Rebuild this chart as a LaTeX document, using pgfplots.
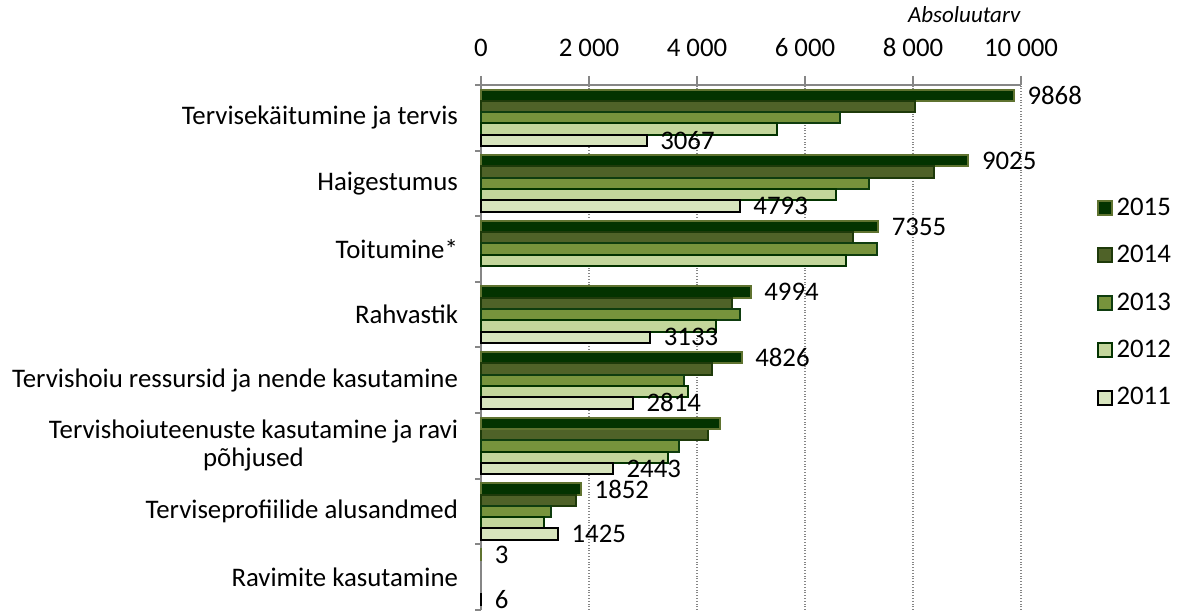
\documentclass[border=0pt]{standalone}
\usepackage{fontspec}
\setmainfont{Carlito}
\usepackage{pgfplots}
\pgfplotsset{compat=1.18}
\definecolor{c15}{HTML}{033300}
\definecolor{c15e}{HTML}{5F7330}
\definecolor{c14}{HTML}{4F6228}
\definecolor{c14e}{HTML}{1E3A0A}
\definecolor{c13}{HTML}{77933C}
\definecolor{c13e}{HTML}{0F3D0F}
\definecolor{c12}{HTML}{C3D69B}
\definecolor{c12e}{HTML}{033300}
\definecolor{c11}{HTML}{D7E4BD}
\definecolor{axgray}{HTML}{868686}
\begin{document}
\begin{tikzpicture}[font=\fontsize{13.4pt}{14pt}\selectfont]
\begin{axis}[
  scale only axis, width=270pt, height=262.5pt,
  clip=false,
  xbar, bar width=0.172,
  xmin=0, xmax=10000, ymin=-0.5, ymax=7.5,
  axis x line*=top, axis y line*=left,
  axis line style={axgray, line width=1pt},
  xtick={0,2000,...,10000},
  scaled x ticks=false,
  xticklabel style={/pgf/number format/assume math mode=true, /pgf/number format/1000 sep={\ }, yshift=6pt},
  tick align=outside,
  major tick length=4.5pt,
  tick style={axgray, line width=1pt},
  xmajorgrids,
  grid style={axgray, densely dotted, line width=0.7pt},
  ytick={0,...,7},
  yticklabels={Ravimite kasutamine, Terviseprofiilide alusandmed, {Tervishoiuteenuste kasutamine ja ravi\\põhjused}, Tervishoiu ressursid ja nende kasutamine, Rahvastik, Toitumine*, Haigestumus, Tervisekäitumine ja tervis},
  yticklabel style={align=center, xshift=-3.5pt},
  every major y tick/.style={draw=none},
  minor ytick={-0.5,0.5,...,7.5},
  /pgf/number format/1000 sep={},
  every node near coord/.append style={/pgf/number format/assume math mode=true, font=\fontsize{13.4pt}{14pt}\selectfont, black, xshift=3pt},
  legend style={draw=none, fill=none, at={(1.128,0.585)}, anchor=west, row sep=9.5pt, font=\fontsize{13.4pt}{14pt}\selectfont},
  legend cell align=left,
  legend image code/.code={\draw[#1, line width=1pt] (0pt,-3.5pt) rectangle (7pt,3.5pt);},
]
\addplot[fill=c15, draw=c15e, line width=1pt, bar shift=0.344, point meta=x, nodes near coords]
  coordinates {(9868,7) (9025,6) (7355,5) (4994,4) (4826,3) (1852,1) (3,0)};
\addlegendentry{2015}
\addplot[fill=c14, draw=c14e, line width=1pt, bar shift=0.172]
  coordinates {(8039,7) (8384,6) (6897,5) (4652,4) (4280,3) (4212,2) (1758,1)};
\addlegendentry{2014}
\addplot[fill=c13, draw=c13e, line width=1pt, bar shift=0]
  coordinates {(6646,7) (7181,6) (7340,5) (4801,4) (3753,3) (3665,2) (1291,1)};
\addlegendentry{2013}
\addplot[fill=c12, draw=c12e, line width=1pt, bar shift=-0.172]
  coordinates {(5490,7) (6565,6) (6768,5) (4348,4) (3834,3) (3469,2) (1163,1)};
\addlegendentry{2012}
\addplot[fill=c11, draw=black, line width=1pt, bar shift=-0.344, point meta=x, nodes near coords]
  coordinates {(3067,7) (4793,6) (3133,4) (2814,3) (2443,2) (1425,1) (6,0)};
\addlegendentry{2011}
\addplot[fill=c15, draw=c15e, line width=1pt, bar shift=0.344, forget plot]
  coordinates {(4429,2)};
\node[anchor=base east, font=\itshape\fontsize{11.5pt}{13pt}\selectfont] at (rel axis cs:1.012,1) [yshift=31pt] {Absoluutarv};
\coordinate (BL) at (axis cs:0,-0.5);
\end{axis}
\pgfresetboundingbox
\path (BL) ++(-240.5pt,-2pt) rectangle ++(590.5pt,307pt);
\end{tikzpicture}
\end{document}
